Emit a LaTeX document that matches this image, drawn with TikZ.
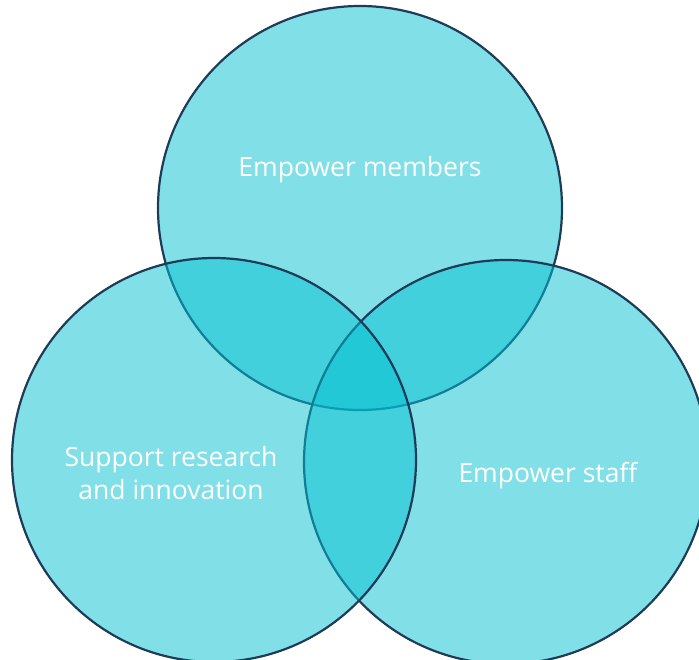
\documentclass[tikz,border=0pt]{standalone}
\usepackage{fontspec}
\setmainfont{Open Sans}
\definecolor{vennfill}{RGB}{4,192,210}
\definecolor{vennline}{RGB}{30,60,88}
\begin{document}
\begin{tikzpicture}[x=1pt,y=-1pt,
  venn/.style={draw=vennline,line width=2.2pt,fill=vennfill,fill opacity=0.5},
  label/.style={text=white,font=\fontsize{26.5}{33}\selectfont,align=center,inner sep=0pt}]
\useasboundingbox (0,0) rectangle (699,660);
% circles: top first, then right, then left
\path[venn] (360,208) circle[radius=202];
\path[venn] (506,462) circle[radius=202];
\path[venn] (214,460) circle[radius=202];
% labels
\node[label] (members) at (360,170) {Empower members};
\node[label] (research) at (171,473) {Support research\\and innovation};
\node[label] (staff) at (548,476) {Empower staff};
\end{tikzpicture}
\end{document}
